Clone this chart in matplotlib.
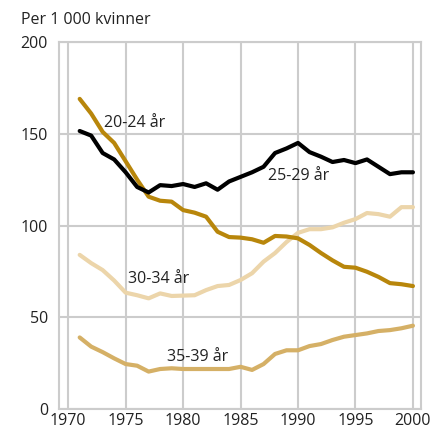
import numpy as np
import matplotlib
matplotlib.use('Agg')
import matplotlib.pyplot as plt

plt.rcParams['font.family'] = ['Open Sans', 'DejaVu Sans']

years = np.arange(1971, 2001)
age_20_24 = [169, 161, 151, 145, 135, 125, 115.7, 113.5, 113, 108.4, 107, 104.8, 96.6, 93.7, 93.4, 92.5,
             90.6, 94.3, 94, 93, 89.4, 85, 81, 77.5, 77, 74.8, 72, 68.6, 68, 67]
age_25_29 = [151.5, 149, 139.5, 136, 129, 121, 118, 122, 121.5, 122.6, 121, 123, 119.5, 124, 126.5, 129,
             132, 139.5, 142, 145, 140, 137.5, 134.6, 135.7, 134, 136, 132, 128, 129, 129]
age_30_34 = [84, 79.5, 75.7, 70, 63.4, 62, 60.3, 63, 61.6, 61.8, 62, 64.8, 67, 67.6, 70.3, 74,
             80.3, 85, 91, 96, 98, 98, 99, 101.5, 103.5, 106.8, 106.2, 104.8, 110, 110]
age_35_39 = [39, 34, 31, 27.6, 24.5, 23.6, 20.4, 21.8, 22.2, 21.8, 21.8, 21.8, 21.8, 21.8, 23, 21.3,
             24.5, 30, 32, 32, 34.3, 35.4, 37.6, 39.4, 40.3, 41.2, 42.5, 43, 44, 45.4]

fig = plt.figure(figsize=(4.48, 4.33), dpi=100)
ax = fig.add_axes([0.1317, 0.0554, 0.808, 0.8476])

grey = '#cccccc'
ax.plot(years, age_30_34, color='#ecd5aa', lw=3, solid_capstyle='round', zorder=3)
ax.plot(years, age_35_39, color='#d5b066', lw=3, solid_capstyle='round', zorder=3)
ax.plot(years, age_20_24, color='#b8860b', lw=3, solid_capstyle='round', zorder=4)
ax.plot(years, age_25_29, color='black', lw=3, solid_capstyle='round', zorder=5)

tkw = dict(fontsize=11.5, color='#222222', ha='left', va='center')
ax.text(1973.1, 156, '20-24 år', **tkw)
ax.text(1987.4, 127, '25-29 år', **tkw)
ax.text(1975.2, 70.8, '30-34 år', **tkw)
ax.text(1978.6, 28.3, '35-39 år', **tkw)

ax.set_xlim(1969.2, 2000.7)
ax.set_ylim(0, 200)
ax.set_xticks([1970, 1975, 1980, 1985, 1990, 1995, 2000])
ax.set_yticks([0, 50, 100, 150, 200])
ax.grid(True, color=grey, lw=1.5)
ax.set_axisbelow(True)
for s in ax.spines.values():
    s.set_color(grey)
    s.set_linewidth(1.5)
ax.tick_params(length=0, labelsize=11.5, colors='#222222')
ax.tick_params(axis='y', pad=8)
ax.tick_params(axis='x', pad=3)

fig.text(21 / 448, 1 - 20 / 433, 'Per 1 000 kvinner', fontsize=11.5, color='#222222', va='center', ha='left')

fig.savefig('out.png', dpi=100)
